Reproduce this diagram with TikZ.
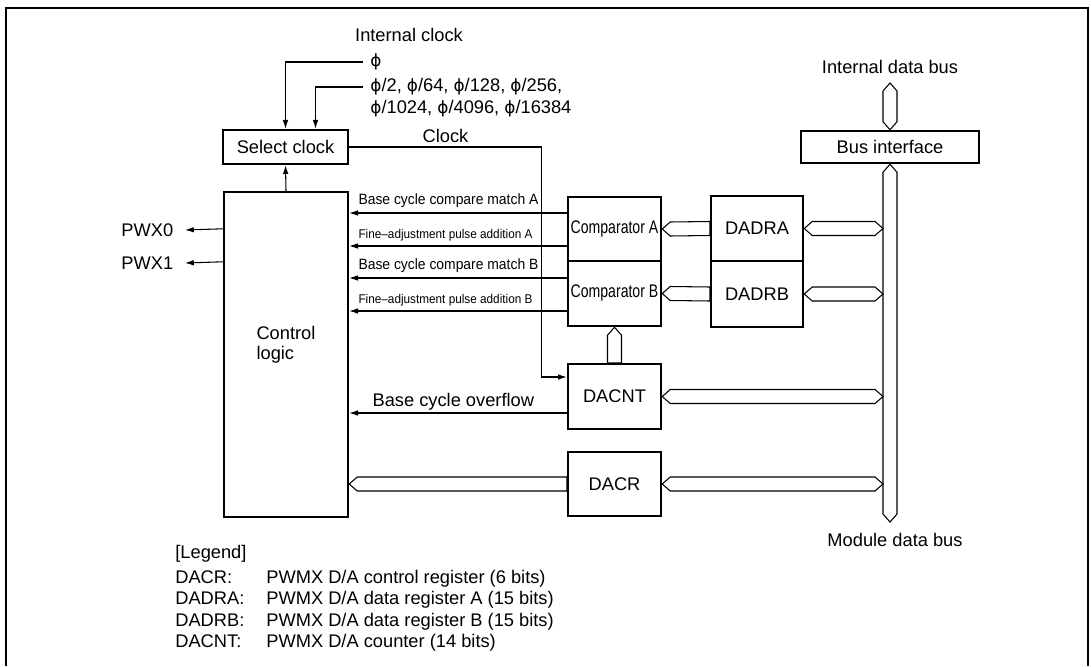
\documentclass[tikz,border=0pt]{standalone}
\usepackage{fontspec}
\setmainfont{Liberation Sans}
\newfontfamily\phifont{DejaVu Sans}
\usetikzlibrary{arrows.meta,positioning,calc}

% hollow bus arrows (picture units are pixels)
\newcommand{\busLR}[2]{\draw[bus] (#1) -- ++(8,-7) -- ($(#2)+(-8,-7)$) -- (#2) -- ++(-8,7) -- ($(#1)+(8,7)$) -- cycle;}
\newcommand{\busL}[2]{\draw[bus] (#1) -- ++(8,-7) -- ($(#2)+(0,-7)$) -- ($(#2)+(0,7)$) -- ($(#1)+(8,7)$) -- cycle;}
\newcommand{\busUD}[2]{\draw[bus] (#1) -- ++(7,8) -- ($(#2)+(7,-8)$) -- (#2) -- ++(-7,-8) -- ($(#1)+(-7,8)$) -- cycle;}
\newcommand{\busU}[2]{\draw[bus] (#1) -- ++(7,8) -- ($(#2)+(7,0)$) -- ($(#2)+(-7,0)$) -- ($(#1)+(-7,8)$) -- cycle;}
\newcommand{\mainfont}{\fontsize{10.4}{12.5}\selectfont}
\newcommand{\lblfont}{\fontsize{8.5}{10}\selectfont}
\newcommand{\finefont}{\fontsize{7.2}{9}\selectfont}
\newcommand{\ph}{{\phifont\fontsize{9.6}{11}\selectfont ϕ}}

\begin{document}
\begin{tikzpicture}[x=0.02cm, y=-0.02cm,
		txt/.style={font=\mainfont, inner sep=0pt},
		box/.style={draw, line width=1.4pt, inner sep=0pt, font=\mainfont},
		sig/.style={-{Latex[length=5pt,width=3.2pt]}, line width=0.6pt},
		bus/.style={draw, line width=0.6pt},
		lbl/.style={anchor=south west, inner xsep=5pt, inner ysep=2.5pt},
		clk/.style={txt, anchor=west, inner xsep=4pt},
		pin/.style={txt, anchor=east, inner xsep=6.5pt}
		]
		\useasboundingbox (0,0) rectangle (1091,666);
		\draw[line width=1.1pt] (6,666) -- (6,8) -- (1088,8) -- (1088,666);
		
		% Blocks
		\node[box, minimum width=2.5cm, minimum height=0.68cm]  (selclk) at (285.5,147) {Select clock};
		\node[box, minimum width=2.48cm, minimum height=6.5cm]  (ctrl)   at (286,354.5) {};
		\node[txt, align=left, font=\fontsize{10.4}{11.4}\selectfont] (ctrltxt) at (286,345) {Control\\logic};
		\node[box, minimum width=1.86cm, minimum height=1.28cm] (cmpA)   at (614.5,229) {\scalebox{0.77}[1]{Comparator A}};
		\node[box, minimum width=1.86cm, minimum height=1.3cm]  (cmpB)   at (614.5,293.5) {\scalebox{0.77}[1]{Comparator B}};
		\node[box, minimum width=1.84cm, minimum height=1.3cm]  (dadra)  at (757,228.5) {DADRA};
		\node[box, minimum width=1.84cm, minimum height=1.32cm] (dadrb)  at (757,294) {DADRB};
		\node[box, minimum width=1.86cm, minimum height=1.3cm]  (dacnt)  at (614.5,396.5) {DACNT};
		\node[box, minimum width=1.86cm, minimum height=1.28cm] (dacr)   at (614.5,484) {DACR};
		\node[box, minimum width=3.56cm, minimum height=0.64cm] (busif)  at (890,147) {Bus interface};
		
		% Clock inputs
		\node[txt] (intclk) at (409,35) {Internal clock};
		\node[clk] (phi)  at (363,62)  {\ph};
		\node[clk] (phiA) at (363,87)  {\ph/2, \ph/64, \ph/128, \ph/256,};
		\node[clk] (phiB) at (363,109) {\ph/1024, \ph/4096, \ph/16384};
		\draw[sig] (phi.west) -| (selclk.north);
		\draw[sig] (phiA.west) -| ($(selclk.north)+(30,0)$);
		\draw[sig] (ctrl.north) -- (selclk.south);
		\coordinate (clkin) at ($(dacnt.west)+(0,-19.5)$);
		\draw[sig] (selclk.east) -| node[pos=0.25, above=2pt, txt] {Clock} ($(clkin)+(-25,0)$) -- (clkin);
		
		% Outputs
		\node[pin] (pwx0) at (185,230) {PWX0};
		\node[pin] (pwx1) at (185,263) {PWX1};
		\draw[sig] ($(ctrl.north west)+(0,38)$) -- (pwx0.east);
		\draw[sig] ($(ctrl.north west)+(0,71)$) -- (pwx1.east);
		
		% Comparator signals
		\coordinate (mA) at ($(cmpA.west)+(0,-16)$);
		\coordinate (fA) at ($(cmpA.west)+(0,17)$);
		\coordinate (mB) at ($(cmpB.west)+(0,-15.5)$);
		\coordinate (fB) at ($(cmpB.west)+(0,17.5)$);
		\coordinate (ovf) at ($(dacnt.west)+(0,16.5)$);
		\draw[sig] (mA) -- (mA -| ctrl.east) node[lbl, font=\lblfont] {\scalebox{0.93}[1]{Base cycle compare match A}};
		\draw[sig] (fA) -- (fA -| ctrl.east) node[lbl, font=\finefont] {\scalebox{0.93}[1]{Fine–adjustment pulse addition A}};
		\draw[sig] (mB) -- (mB -| ctrl.east) node[lbl, font=\lblfont] {\scalebox{0.93}[1]{Base cycle compare match B}};
		\draw[sig] (fB) -- (fB -| ctrl.east) node[lbl, font=\finefont] {\scalebox{0.93}[1]{Fine–adjustment pulse addition B}};
		\draw[sig] (ovf) -- (ovf -| ctrl.east) node[lbl, font=\mainfont, inner xsep=13pt, inner ysep=1pt] {Base cycle overflow};
		
		% Buses
		\coordinate (idb) at (890,83);
		\coordinate (mdb) at (890,522);
		\node[txt] (idbtxt) at (890,67) {Internal data bus};
		\node[txt] (mdbtxt) at (895,540) {Module data bus};
		\busUD{idb}{busif.north}
		\busUD{busif.south}{mdb}
		\coordinate (aR) at ($(dadra.east -| busif.south)+(-7,0)$);
		\coordinate (bR) at ($(dadrb.east -| busif.south)+(-7,0)$);
		\coordinate (cR) at ($(dacnt.east -| busif.south)+(-7,0)$);
		\coordinate (dR) at ($(dacr.east -| busif.south)+(-7,0)$);
		\coordinate (dL) at (dacr.west -| ctrl.east);
		\busLR{dadra.east}{aR}
		\busLR{dadrb.east}{bR}
		\busLR{dacnt.east}{cR}
		\busLR{dacr.east}{dR}
		\busL{cmpA.east}{dadra.west}
		\busL{cmpB.east}{dadrb.west}
		\busL{dL}{dacr.west}
		\busU{cmpB.south}{dacnt.north}
		
		% Legend
		\node[txt, anchor=base west] (leg)    at (175,558) {[Legend]};
		\node[txt, anchor=base west] (kdacr)  at (175,583) {DACR:};
		\node[txt, anchor=base west] (kdadra) at (175,604.5) {DADRA:};
		\node[txt, anchor=base west] (kdadrb) at (175,626) {DADRB:};
		\node[txt, anchor=base west] (kdacnt) at (175,647.5) {DACNT:};
		\node[txt, anchor=base west] (ddacr)  at (266,583) {PWMX D/A control register (6 bits)};
		\node[txt, anchor=base west] (ddadra) at (266,604.5) {PWMX D/A data register A (15 bits)};
		\node[txt, anchor=base west] (ddadrb) at (266,626) {PWMX D/A data register B (15 bits)};
		\node[txt, anchor=base west] (ddacnt) at (266,647.5) {PWMX D/A counter (14 bits)};
	\end{tikzpicture}
\end{document}
